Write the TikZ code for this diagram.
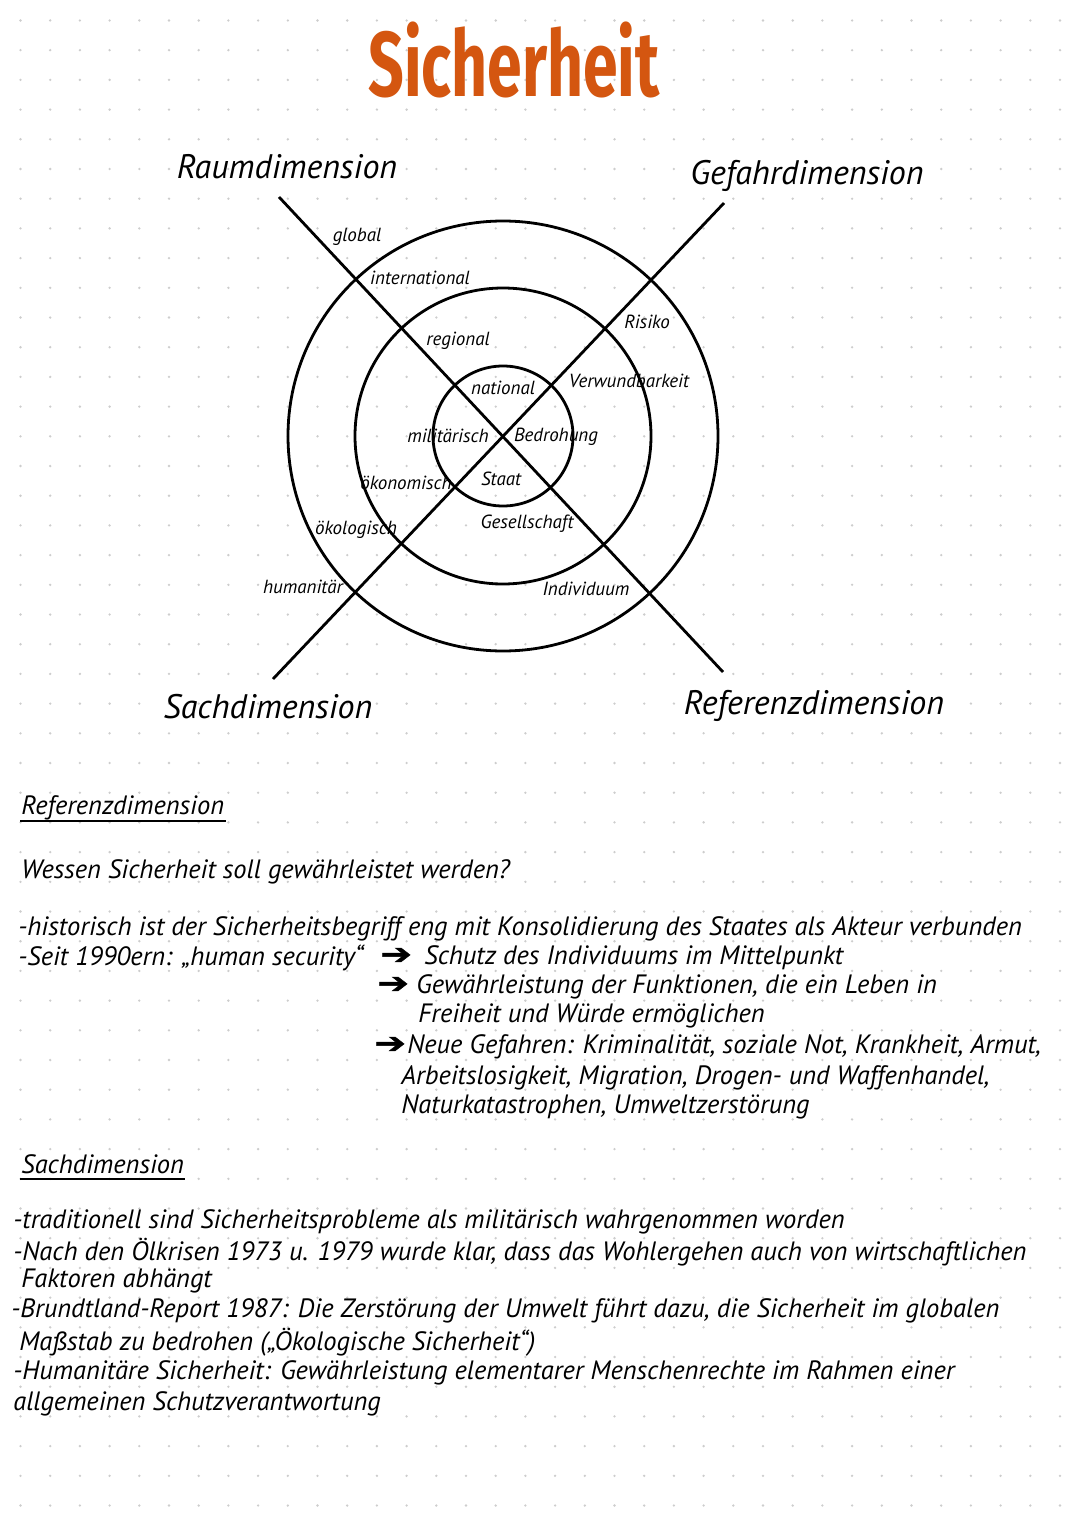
\documentclass[tikz,border=0pt]{standalone}
\usepackage{fontspec}
\setmainfont{PT Sans}
\newfontfamily\titlefont{Fira Sans}[FakeStretch=0.68]
\newfontfamily\symfont{DejaVu Sans}[FakeStretch=1.3, FakeBold=1.5]
\usetikzlibrary{calc}
\newcommand\fsz[1]{\fontsize{#1}{#1}\selectfont}
\definecolor{titleorange}{RGB}{212,86,16}
\definecolor{dotgray}{RGB}{205,205,205}

\begin{document}
\begin{tikzpicture}[x=1pt, y=-1pt, line width=2.8pt,
  lbl/.style={font=\fsz{19}\itshape, inner sep=0pt},
  dimlbl/.style={font=\fsz{34}\itshape, inner sep=0pt},
  txt/.style={font=\fsz{26.5}\itshape, anchor=west, inner sep=0pt},
  pfeil/.style={font=\symfont\fsz{29}, anchor=base west, inner sep=0pt,
                text height=16pt, text depth=0pt}]
  \useasboundingbox (0,0) rectangle (1080,1525);
  \fill[white] (0,0) rectangle (1080,1525);

  % Dot grid
  \foreach \i in {0,...,36}
    \foreach \j in {0,...,51}
      \fill[dotgray] (20.5+29.7*\i, 20.5+29.7*\j) circle[radius=1.3];

  % Title
  \node[font=\titlefont\bfseries\fsz{92}, text=titleorange] (titel) at (514,60) {Sicherheit};

  % Rings
  \coordinate (mitte) at (503,436);
  \draw (mitte) circle[radius=70];
  \draw (mitte) circle[radius=148];
  \draw (mitte) circle[radius=215];

  % Axes
  \coordinate (raum) at (279,197);
  \coordinate (ref) at (723,672);
  \coordinate (gefahr) at (724,203);
  \coordinate (sach) at (273,679);
  \draw (raum) -- (ref);
  \draw (gefahr) -- (sach);

  % Dimension names
  \node[dimlbl] (raumname) at (287,167) {Raumdimension};
  \node[dimlbl] (gefahrname) at (807,176) {Gefahrdimension};
  \node[dimlbl] (sachname) at (268,707) {Sachdimension};
  \node[dimlbl] (refname) at (814,706) {Referenzdimension};

  % Ring labels
  \node[lbl] (global) at (357,237) {global};
  \node[lbl] (international) at (420,278) {international};
  \node[lbl] (regional) at (458,341) {regional};
  \node[lbl] (national) at (503,388) {national};
  \node[lbl] (risiko) at (647,322) {Risiko};
  \node[lbl] (verwund) at (629,381) {Verwundbarkeit};
  \node[lbl] (militaer) at (448,436) {militärisch};
  \node[lbl] (bedrohung) at (556,437) {Bedrohung};
  \node[lbl] (oekonom) at (406,483) {ökonomisch};
  \node[lbl] (staat) at (501,479) {Staat};
  \node[lbl] (oekolog) at (356,530) {ökologisch};
  \node[lbl] (gesell) at (527,524) {Gesellschaft};
  \node[lbl] (humanit) at (303,587) {humanitär};
  \node[lbl] (indiv) at (586,589) {Individuum};

  % Referenzdimension
  \node[txt] (kopfref) at (20,808) {Referenzdimension};
  \draw[line width=2.2pt] ($(kopfref.base west)+(0,6)$) -- ($(kopfref.base east)+(0,6)$);
  \node[txt] (frage) at (20,872) {Wessen Sicherheit soll gewährleistet werden?};
  \node[txt] (ref1) at (17,929) {-historisch ist der Sicherheitsbegriff eng mit Konsolidierung des Staates als Akteur verbunden};
  \node[txt] (ref2) at (17,958) {-Seit 1990ern: „human security“};
  \node[pfeil] (p1) at (379,964) {➔};
  \node[txt] (ref3) at (423,958) {Schutz des Individuums im Mittelpunkt};
  \node[pfeil] (p2) at (376,993) {➔};
  \node[txt] (ref4) at (415,987) {Gewährleistung der Funktionen, die ein Leben in};
  \node[txt] (ref5) at (417,1016) {Freiheit und Würde ermöglichen};
  \node[pfeil] (p3) at (373,1053) {➔};
  \node[txt] (ref6) at (406,1047) {Neue Gefahren: Kriminalität, soziale Not, Krankheit, Armut,};
  \node[txt] (ref7) at (400,1078) {Arbeitslosigkeit, Migration, Drogen- und Waffenhandel,};
  \node[txt] (ref8) at (400,1107) {Naturkatastrophen, Umweltzerstörung};

  % Sachdimension
  \node[txt] (kopfsach) at (20,1164) {Sachdimension};
  \draw[line width=2.2pt] ($(kopfsach.base west)+(0,6)$) -- ($(kopfsach.base east)+(0,6)$);
  \node[txt] (sach1) at (12,1222) {-traditionell sind Sicherheitsprobleme als militärisch wahrgenommen worden};
  \node[txt] (sach2) at (12,1252) {-Nach den Ölkrisen 1973 u. 1979 wurde klar, dass das Wohlergehen auch von wirtschaftlichen};
  \node[txt] (sach3) at (20,1281) {Faktoren abhängt};
  \node[txt] (sach4) at (10,1311) {-Brundtland-Report 1987: Die Zerstörung der Umwelt führt dazu, die Sicherheit im globalen};
  \node[txt] (sach5) at (18,1342) {Maßstab zu bedrohen („Ökologische Sicherheit“)};
  \node[txt] (sach6) at (12,1373) {-Humanitäre Sicherheit: Gewährleistung elementarer Menschenrechte im Rahmen einer};
  \node[txt] (sach7) at (12,1404) {allgemeinen Schutzverantwortung};
\end{tikzpicture}
\end{document}
